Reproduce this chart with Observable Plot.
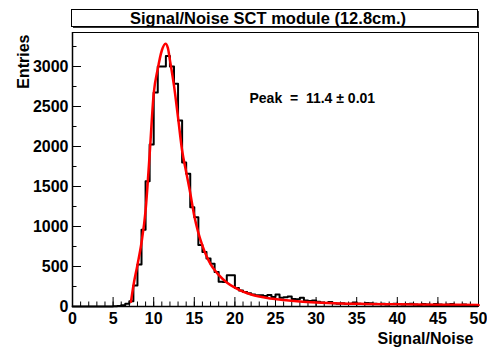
<!DOCTYPE html>
<html><head><meta charset="utf-8">
<script src="https://cdn.jsdelivr.net/npm/d3@7"></script>
<script src="https://cdn.jsdelivr.net/npm/@observablehq/plot@0.6"></script>
<style>
body{margin:0;background:#fff}
#chart svg{font-family:"Liberation Sans",Arial,Helvetica,sans-serif;overflow:visible}
#chart svg text{font-weight:bold;fill:black}
</style>
</head><body><div id="chart"></div>
<script>
// ---- data ----
const binLow = d3.range(0, 50, 0.5);   // 100 bins of width 0.5
const counts = [
  0,0,0,0,0,0,0,0,0,0,
  2,5,15,35,65,262,525,960,1566,2025,
  2675,3000,3000,3130,3000,2785,2325,1800,1660,1240,
  1116,770,680,600,535,430,310,305,390,390,
  230,200,180,165,150,140,140,130,145,120,
  150,110,115,125,95,90,110,75,70,75,
  60,50,45,55,40,35,40,30,35,50,
  35,30,45,40,35,30,35,25,30,35,
  30,25,30,35,25,20,30,25,20,30,
  25,20,25,30,20,15,25,20,20,15
];
const fitX = [7.2,7.5,8,8.5,9,9.5,10,10.5,11,11.45,11.75,12,12.5,13,13.5,14,14.5,15,15.5,16,16.5,17,17.5,18,19,20,21,22,23,24,26,28,30,33,36,40,45,50];
const fitY = [60,260,520,800,1200,1900,2660,2970,3200,3285,3230,3080,2760,2360,1950,1680,1420,1130,920,760,630,530,455,395,300,235,185,150,125,105,80,62,50,38,32,27,23,20];
const xTicks = [0,5,10,15,20,25,30,35,40,45,50];
const yTicks = [0,500,1000,1500,2000,2500,3000];
const xMinor = d3.range(0, 51, 1);
const yMinor = d3.range(0, 3401, 250);
const titleText = "Signal/Noise SCT module (12.8cm.)";
const xLabel = "Signal/Noise";
const yLabel = "Entries";
const peakLabel = "Peak  =  11.4 \u00b1 0.01";

// ---- layout ----
const W = 487, H = 354, mL = 72, mR = 9, mT = 32, mB = 48;
const iw = W - mL - mR, ih = H - mT - mB;

const hist = binLow.map((x, i) => ({x, y: counts[i]}));
hist.push({x: 50, y: counts[counts.length - 1]});
const fit = fitX.map((x, i) => ({x, y: fitY[i]}));
const bold = {fontSize: 16, fontWeight: "bold", fill: "black"};

const chart = Plot.plot({
  width: W, height: H,
  marginLeft: mL, marginRight: mR, marginTop: mT, marginBottom: mB,
  x: {domain: [0, 50]},
  y: {domain: [0, 3425]},
  marks: [
    Plot.frame({stroke: "black", strokeWidth: 1}),
    Plot.tickX(xMinor, {x: d => d, insetTop: ih - 4.5, stroke: "black", strokeWidth: 1}),
    Plot.tickX(xTicks, {x: d => d, insetTop: ih - 9, stroke: "black", strokeWidth: 1}),
    Plot.tickY(yMinor, {y: d => d, insetRight: iw - 4.5, stroke: "black", strokeWidth: 1}),
    Plot.tickY(yTicks, {y: d => d, insetRight: iw - 9, stroke: "black", strokeWidth: 1}),
    Plot.line(hist, {x: "x", y: "y", curve: "step-after", stroke: "black", strokeWidth: 2}),
    Plot.line(fit, {x: "x", y: "y", curve: "monotone-x", stroke: "#ff0000", strokeWidth: 2.5}),
    Plot.ruleX([0], {stroke: "black", strokeWidth: 1.5}),
    Plot.ruleY([0], {stroke: "black", strokeWidth: 1.5}),
    Plot.axisX(xTicks, {tickSize: 0, tickPadding: 6, label: null, tickFormat: d3.format("d"), ...bold}),
    Plot.axisY(yTicks, {tickSize: 0, tickPadding: 4, label: null, tickFormat: d3.format("d"), ...bold}),
    Plot.text([xLabel], {frameAnchor: "bottom-right", dx: -5, dy: 37, textAnchor: "end", ...bold}),
    Plot.text([yLabel], {frameAnchor: "top-left", rotate: -90, dx: -55, dy: 2, textAnchor: "end", ...bold}),
    Plot.text([peakLabel], {frameAnchor: "top-left", dx: 177, dy: 61, textAnchor: "start", fontSize: 14, fontWeight: "bold", fill: "black"})
  ]
});

// title box
const svg = d3.select(chart);
const g = svg.append("g");
g.append("rect").attr("x", 73).attr("y", 11).attr("width", 406).attr("height", 17).attr("fill", "#333");
g.append("rect").attr("x", 71.5).attr("y", 9.5).attr("width", 406).attr("height", 17).attr("fill", "white").attr("stroke", "black").attr("stroke-width", 1);
g.append("text").attr("x", 268).attr("y", 24).attr("text-anchor", "middle")
  .attr("font-size", 16.5).attr("font-weight", "bold").attr("fill", "black").text(titleText);

document.getElementById("chart").appendChild(chart);
</script>
</body></html>
